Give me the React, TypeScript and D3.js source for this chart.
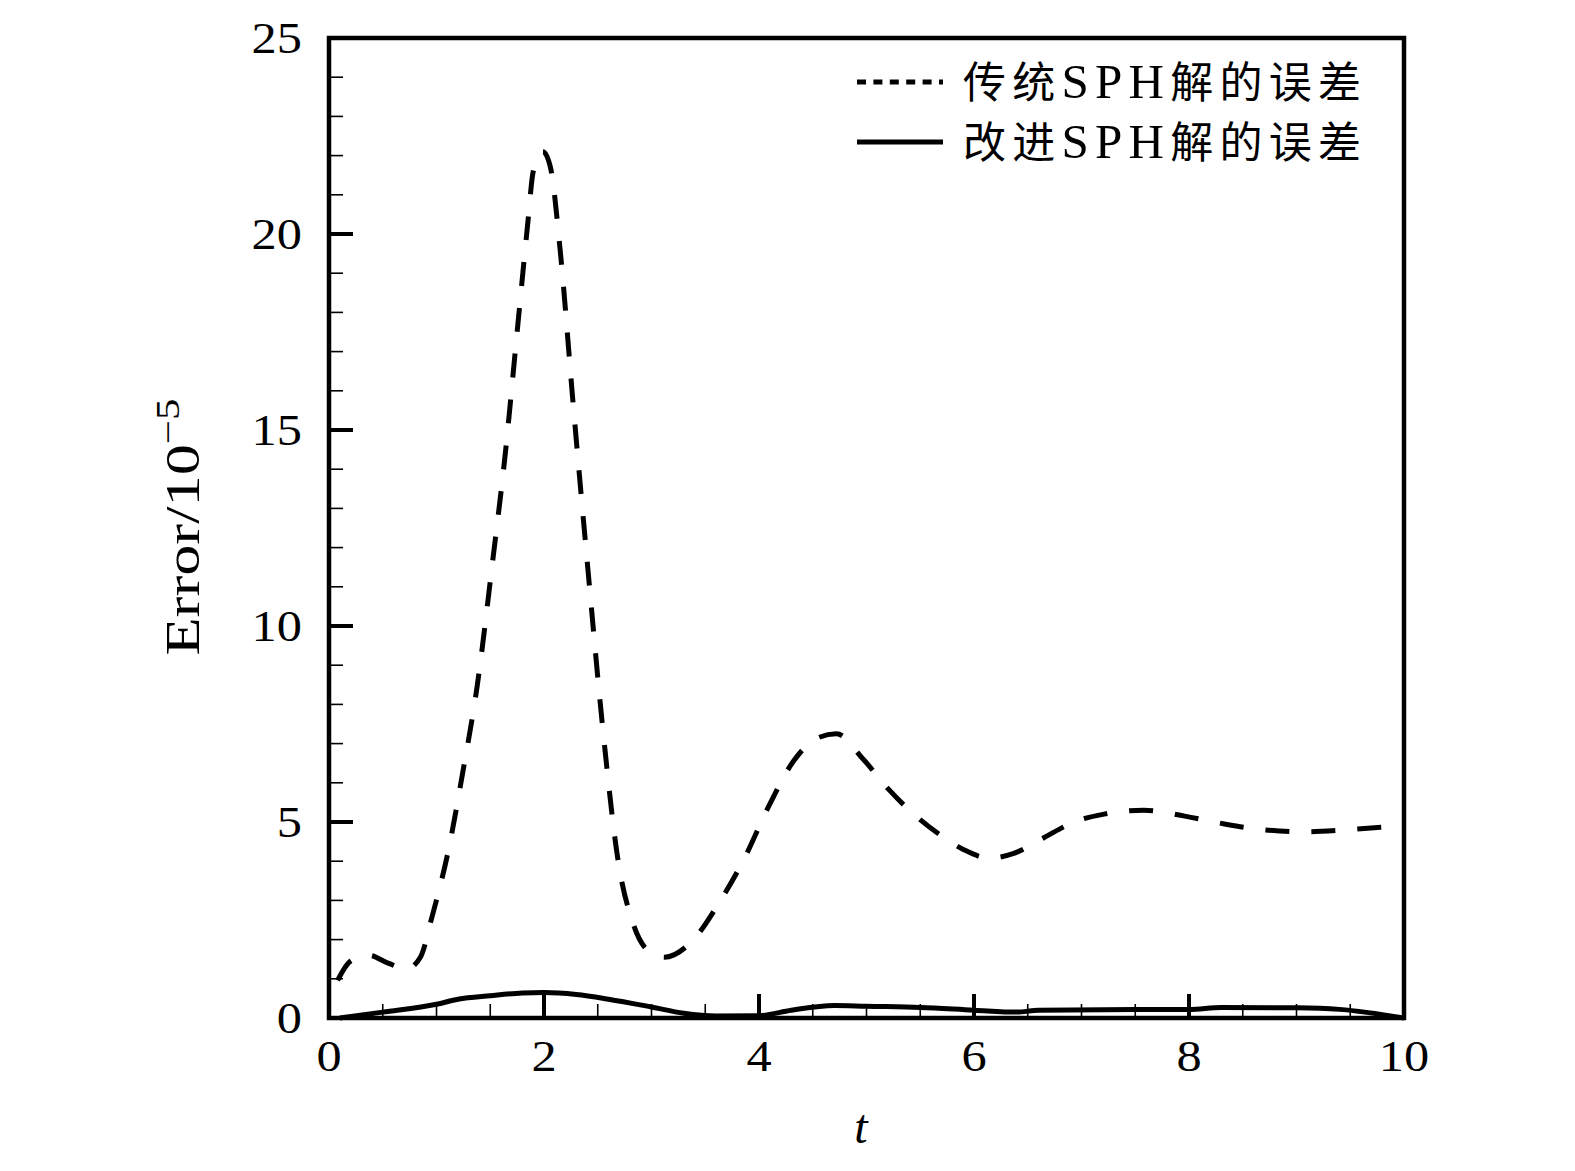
import React from "react";
import * as d3 from "d3";

const W = 1575;
const H = 1171;
const M = { left: 329, right: 1404, top: 38, bottom: 1018 };

const xTicks = [0, 2, 4, 6, 8, 10];
const yTicks = [0, 5, 10, 15, 20, 25];
const xMinor = d3.range(0, 10.001, 0.5);
const yMinor = d3.range(0, 25.001, 1);

const tradT = [0.08, 0.2, 0.37, 0.55, 0.72, 0.85, 0.96, 1.12, 1.24, 1.38, 1.52, 1.64, 1.75, 1.85, 1.9, 1.99, 2.06, 2.15, 2.27, 2.41, 2.55, 2.69, 2.83, 3.0, 3.12, 3.39, 3.62, 3.86, 4.09, 4.32, 4.55, 4.72, 4.97, 5.2, 5.44, 5.67, 5.9, 6.14, 6.37, 6.65, 6.93, 7.21, 7.58, 7.96, 8.33, 8.7, 9.08, 9.45, 9.85];
const tradErr = [0.96, 1.45, 1.6, 1.4, 1.25, 1.55, 2.6, 4.4, 6.2, 8.5, 11.6, 14.4, 17.5, 20.3, 21.6, 22.1, 21.7, 19.6, 15.7, 11.4, 7.3, 4.0, 2.4, 1.65, 1.55, 2.0, 2.9, 4.05, 5.4, 6.55, 7.15, 7.25, 6.6, 5.85, 5.2, 4.7, 4.3, 4.08, 4.2, 4.6, 5.0, 5.2, 5.3, 5.15, 4.95, 4.8, 4.75, 4.8, 4.88];

const impT = [0.1, 0.5, 1.0, 1.2, 1.5, 1.8, 2.0, 2.3, 2.6, 3.0, 3.3, 3.6, 4.0, 4.3, 4.7, 5.0, 5.5, 6.0, 6.4, 6.6, 7.5, 8.0, 8.3, 9.0, 9.4, 10.0];
const impErr = [0.0, 0.15, 0.35, 0.48, 0.57, 0.64, 0.65, 0.6, 0.48, 0.28, 0.12, 0.05, 0.06, 0.2, 0.32, 0.3, 0.27, 0.2, 0.15, 0.2, 0.22, 0.22, 0.27, 0.26, 0.22, 0.0];

const legendLabels = ["传统SPH解的误差", "改进SPH解的误差"];

export default function App() {
  const x = d3.scaleLinear().domain([0, 10]).range([M.left, M.right]);
  const y = d3.scaleLinear().domain([0, 25]).range([M.bottom, M.top]);
  const line = d3
    .line<[number, number]>()
    .x((d) => x(d[0]))
    .y((d) => y(d[1]))
    .curve(d3.curveMonotoneX);
  const trad: [number, number][] = tradT.map((t, i) => [t, tradErr[i]]);
  const imp: [number, number][] = impT.map((t, i) => [t, impErr[i]]);
  const serif = "'Liberation Serif', 'DejaVu Serif', serif";
  const cjk = "'Noto Sans CJK SC', sans-serif";

  const legendText = (s: string) => {
    const parts = s.split(/(SPH)/);
    return parts.map((p, i) =>
      p === "SPH" ? (
        <tspan key={i} fontFamily={serif} fontSize={49}>
          {p}
        </tspan>
      ) : (
        <tspan key={i} fontFamily={cjk} fontSize={43}>
          {p}
        </tspan>
      )
    );
  };

  return (
    <svg
      width={W}
      height={H}
      style={{ position: "absolute", left: 0, top: 0, background: "#fff" }}
    >
      <rect x={0} y={0} width={W} height={H} fill="#fff" />
      {xMinor
        .filter((v) => !xTicks.includes(v))
        .map((v) => (
          <line key={"xm" + v} x1={x(v)} x2={x(v)} y1={M.bottom} y2={M.bottom - 14} stroke="#000" strokeWidth={1.6} />
        ))}
      {yMinor
        .filter((v) => !yTicks.includes(v))
        .map((v) => (
          <line key={"ym" + v} x1={M.left} x2={M.left + 14} y1={y(v)} y2={y(v)} stroke="#000" strokeWidth={1.6} />
        ))}
      {xTicks.map((v) => (
        <line key={"xM" + v} x1={x(v)} x2={x(v)} y1={M.bottom} y2={M.bottom - 24} stroke="#000" strokeWidth={4} />
      ))}
      {yTicks.map((v) => (
        <line key={"yM" + v} x1={M.left} x2={M.left + 24} y1={y(v)} y2={y(v)} stroke="#000" strokeWidth={4} />
      ))}
      <path d={line(trad) || ""} fill="none" stroke="#000" strokeWidth={5} strokeDasharray="24 22" />
      <path d={line(imp) || ""} fill="none" stroke="#000" strokeWidth={5} />
      <rect
        x={M.left}
        y={M.top}
        width={M.right - M.left}
        height={M.bottom - M.top}
        fill="none"
        stroke="#000"
        strokeWidth={4.5}
      />
      {xTicks.map((v) => (
        <text
          key={"xl" + v}
          transform={`translate(${x(v)},1071) scale(1.12,1)`}
          textAnchor="middle"
          fontFamily={serif}
          fontSize={45}
        >
          {v}
        </text>
      ))}
      {yTicks.map((v) => (
        <text
          key={"yl" + v}
          transform={`translate(302,${y(v) + 15}) scale(1.12,1)`}
          textAnchor="end"
          fontFamily={serif}
          fontSize={45}
        >
          {v}
        </text>
      ))}
      <text x={861} y={1143} textAnchor="middle" fontFamily={serif} fontStyle="italic" fontSize={48}>
        t
      </text>
      <text
        transform="translate(199,527) rotate(-90) scale(1.3,1)"
        textAnchor="middle"
        fontFamily={serif}
        fontSize={48}
      >
        Error/10
        <tspan fontSize={33} dy={-20}>
          −5
        </tspan>
      </text>
      {legendLabels.map((s, i) => (
        <g key={"lg" + i}>
          <line
            x1={857}
            x2={943}
            y1={82 + i * 60}
            y2={82 + i * 60}
            stroke="#000"
            strokeWidth={5}
            strokeDasharray={i === 0 ? "9 7.4" : undefined}
          />
          <text x={963} y={98 + i * 60} textLength={398} lengthAdjust="spacing">
            {legendText(s)}
          </text>
        </g>
      ))}
    </svg>
  );
}
